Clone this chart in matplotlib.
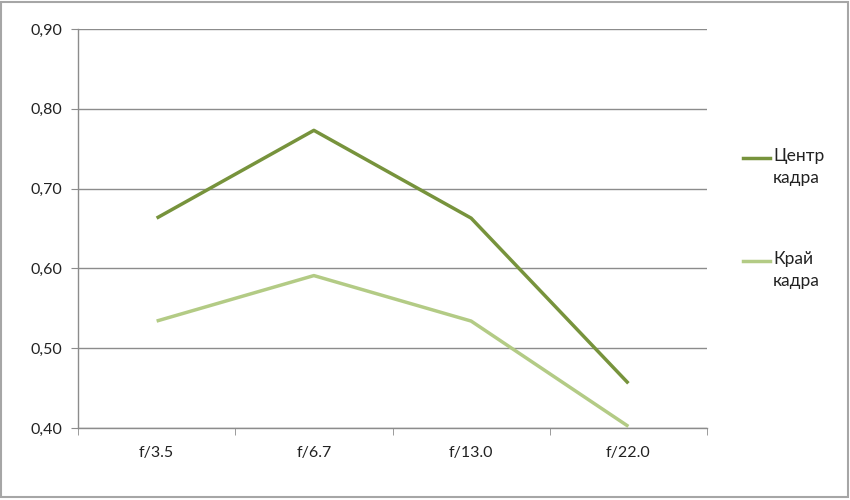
import matplotlib
matplotlib.use("Agg")
import matplotlib.pyplot as plt
from matplotlib.lines import Line2D
from matplotlib.patches import Rectangle

categories = ["f/3.5", "f/6.7", "f/13.0", "f/22.0"]
center = [0.663, 0.773, 0.663, 0.456]
edge = [0.534, 0.591, 0.534, 0.402]
series_names = ["Центр\nкадра", "Край\nкадра"]
yticks = [0.40, 0.50, 0.60, 0.70, 0.80, 0.90]

c_center = "#77933C"
c_edge = "#B3CB85"
gray = "#8C8C8C"

plt.rcParams['font.family'] = ['Lato', 'Open Sans', 'DejaVu Sans']

fig = plt.figure(figsize=(8.5, 5), dpi=100)
ax = fig.add_axes([78/850, 72/500, 629/850, 399/500])

x = list(range(len(categories)))
ax.plot(x, center, color=c_center, lw=2.5, solid_capstyle='butt', zorder=3)
ax.plot(x, edge, color=c_edge, lw=2.5, solid_capstyle='butt', zorder=3)

ax.set_xlim(-0.5, len(categories) - 0.5)
ax.set_ylim(0.40, 0.90)
ax.set_yticks(yticks)
ax.set_yticklabels([f"{v:.2f}".replace('.', ',') for v in yticks])
ax.set_xticks(x)
ax.set_xticklabels(categories)
ax.set_xticks([i - 0.5 for i in range(len(categories) + 1)], minor=True)

ax.grid(axis='y', color=gray, lw=1)
ax.set_axisbelow(True)
for s in ['top', 'right']:
    ax.spines[s].set_visible(False)
for s in ['left', 'bottom']:
    ax.spines[s].set_color(gray)
    ax.spines[s].set_linewidth(1)
ax.tick_params(axis='y', length=5, color=gray, labelsize=11.5, labelcolor='#222222', pad=6)
ax.tick_params(axis='x', which='major', length=0, labelsize=11.5, labelcolor='#222222', pad=13)
ax.tick_params(axis='x', which='minor', length=5, color=gray)

# legend
for i, (name, col) in enumerate(zip(series_names, [c_center, c_edge])):
    yl = 1 - [158, 261][i] / 500
    fig.add_artist(Line2D([743/850, 770/850], [yl, yl], color=col, lw=2.5,
                          transform=fig.transFigure))
    fig.text(773/850, yl + 10/500, name, ha='left', va='top', fontsize=12.5,
             color='#222222', linespacing=1.45)

fig.add_artist(Rectangle((1/850, 3/500), 847/850, 495/500, fill=False,
                         edgecolor='#A6A6A6', lw=1.5, transform=fig.transFigure))

fig.savefig("out.png", dpi=100)
